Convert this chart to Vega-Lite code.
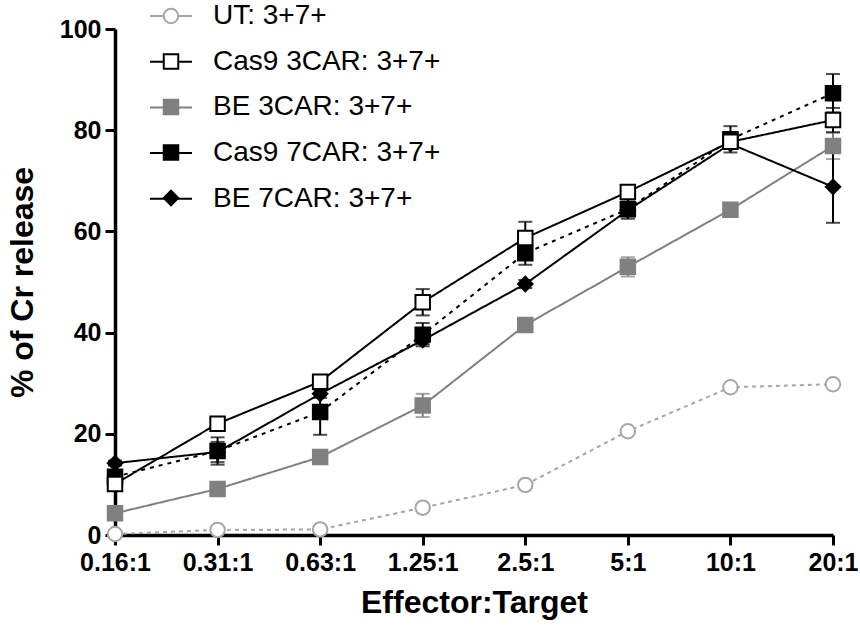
{
  "$schema": "https://vega.github.io/schema/vega-lite/v6.json",
  "width": 718,
  "height": 506,
  "autosize": {"type": "none"},
  "padding": {"left": 115, "top": 29, "right": 27, "bottom": 97},
  "background": "white",
  "config": {
    "view": {"stroke": null},
    "font": "Liberation Sans",
    "axis": {
      "domainColor": "black", "domainWidth": 3.5, "tickColor": "black", "tickWidth": 3, "tickSize": 10,
      "labelFont": "Liberation Sans", "labelFontSize": 25, "labelFontWeight": "bold", "labelColor": "black",
      "titleFont": "Liberation Sans", "titleFontSize": 32, "titleFontWeight": "bold", "titleColor": "black",
      "grid": false
    },
    "axisX": {"labelPadding": 5, "titlePadding": 12, "labelAngle": 0, "labelOverlap": false, "labelFlush": false},
    "axisY": {"labelPadding": 4, "titlePadding": 20}
  },
  "data": {
    "values": [
      {"ratio": "0.16:1", "series": "UT: 3+7+", "mean": 0.2, "sd": 0},
      {"ratio": "0.31:1", "series": "UT: 3+7+", "mean": 1.0, "sd": 0},
      {"ratio": "0.63:1", "series": "UT: 3+7+", "mean": 1.1, "sd": 0},
      {"ratio": "1.25:1", "series": "UT: 3+7+", "mean": 5.4, "sd": 0},
      {"ratio": "2.5:1", "series": "UT: 3+7+", "mean": 9.9, "sd": 0},
      {"ratio": "5:1", "series": "UT: 3+7+", "mean": 20.5, "sd": 0},
      {"ratio": "10:1", "series": "UT: 3+7+", "mean": 29.2, "sd": 0},
      {"ratio": "20:1", "series": "UT: 3+7+", "mean": 29.8, "sd": 0},
      {"ratio": "0.16:1", "series": "BE 3CAR: 3+7+", "mean": 4.3, "sd": 0.5},
      {"ratio": "0.31:1", "series": "BE 3CAR: 3+7+", "mean": 9.1, "sd": 0.5},
      {"ratio": "0.63:1", "series": "BE 3CAR: 3+7+", "mean": 15.4, "sd": 0.5},
      {"ratio": "1.25:1", "series": "BE 3CAR: 3+7+", "mean": 25.6, "sd": 2.3},
      {"ratio": "2.5:1", "series": "BE 3CAR: 3+7+", "mean": 41.5, "sd": 0.8},
      {"ratio": "5:1", "series": "BE 3CAR: 3+7+", "mean": 53.0, "sd": 1.9},
      {"ratio": "10:1", "series": "BE 3CAR: 3+7+", "mean": 64.3, "sd": 0.8},
      {"ratio": "20:1", "series": "BE 3CAR: 3+7+", "mean": 76.9, "sd": 2.6},
      {"ratio": "0.16:1", "series": "BE 7CAR: 3+7+", "mean": 14.2, "sd": 0.5},
      {"ratio": "0.31:1", "series": "BE 7CAR: 3+7+", "mean": 16.4, "sd": 2.0},
      {"ratio": "0.63:1", "series": "BE 7CAR: 3+7+", "mean": 27.9, "sd": 0.8},
      {"ratio": "1.25:1", "series": "BE 7CAR: 3+7+", "mean": 38.5, "sd": 0.8},
      {"ratio": "2.5:1", "series": "BE 7CAR: 3+7+", "mean": 49.6, "sd": 0.8},
      {"ratio": "5:1", "series": "BE 7CAR: 3+7+", "mean": 64.2, "sd": 1.0},
      {"ratio": "10:1", "series": "BE 7CAR: 3+7+", "mean": 77.3, "sd": 0.8},
      {"ratio": "20:1", "series": "BE 7CAR: 3+7+", "mean": 68.8, "sd": 7.1},
      {"ratio": "0.16:1", "series": "Cas9 7CAR: 3+7+", "mean": 11.5, "sd": 1.0},
      {"ratio": "0.31:1", "series": "Cas9 7CAR: 3+7+", "mean": 16.6, "sd": 2.7},
      {"ratio": "0.63:1", "series": "Cas9 7CAR: 3+7+", "mean": 24.3, "sd": 4.5},
      {"ratio": "1.25:1", "series": "Cas9 7CAR: 3+7+", "mean": 39.6, "sd": 2.3},
      {"ratio": "2.5:1", "series": "Cas9 7CAR: 3+7+", "mean": 55.7, "sd": 2.3},
      {"ratio": "5:1", "series": "Cas9 7CAR: 3+7+", "mean": 64.4, "sd": 1.9},
      {"ratio": "10:1", "series": "Cas9 7CAR: 3+7+", "mean": 78.2, "sd": 2.6},
      {"ratio": "20:1", "series": "Cas9 7CAR: 3+7+", "mean": 87.3, "sd": 3.8},
      {"ratio": "0.16:1", "series": "Cas9 3CAR: 3+7+", "mean": 10.1, "sd": 1.0},
      {"ratio": "0.31:1", "series": "Cas9 3CAR: 3+7+", "mean": 22.0, "sd": 0.8},
      {"ratio": "0.63:1", "series": "Cas9 3CAR: 3+7+", "mean": 30.3, "sd": 0.8},
      {"ratio": "1.25:1", "series": "Cas9 3CAR: 3+7+", "mean": 46.0, "sd": 2.6},
      {"ratio": "2.5:1", "series": "Cas9 3CAR: 3+7+", "mean": 58.7, "sd": 3.2},
      {"ratio": "5:1", "series": "Cas9 3CAR: 3+7+", "mean": 67.8, "sd": 1.0},
      {"ratio": "10:1", "series": "Cas9 3CAR: 3+7+", "mean": 77.7, "sd": 1.0},
      {"ratio": "20:1", "series": "Cas9 3CAR: 3+7+", "mean": 82.0, "sd": 2.4}
    ]
  },
  "encoding": {
    "x": {
      "field": "ratio", "type": "ordinal",
      "sort": ["0.16:1", "0.31:1", "0.63:1", "1.25:1", "2.5:1", "5:1", "10:1", "20:1"],
      "scale": {"type": "point", "padding": 0, "domain": ["0.16:1", "0.31:1", "0.63:1", "1.25:1", "2.5:1", "5:1", "10:1", "20:1"]},
      "axis": {"title": "Effector:Target"}
    },
    "y": {
      "field": "mean", "type": "quantitative",
      "scale": {"domain": [0, 100], "nice": false},
      "axis": {"values": [0, 20, 40, 60, 80, 100], "title": "% of Cr release"}
    }
  },
  "layer": [
    {
      "mark": {"type": "line", "strokeWidth": 2},
      "encoding": {
        "color": {
          "field": "series", "type": "nominal",
          "scale": {"domain": ["UT: 3+7+", "Cas9 3CAR: 3+7+", "BE 3CAR: 3+7+", "Cas9 7CAR: 3+7+", "BE 7CAR: 3+7+", "-"], "range": ["#a6a6a6", "black", "#808080", "black", "black", "white"]},
          "legend": {
            "orient": "none", "legendX": 34, "legendY": -35, "title": null, "padding": 0,
            "values": ["UT: 3+7+", "Cas9 3CAR: 3+7+", "BE 3CAR: 3+7+", "Cas9 7CAR: 3+7+", "BE 7CAR: 3+7+"],
            "symbolType": "stroke", "symbolSize": 1764, "symbolStrokeWidth": 2, "symbolOpacity": 1,
            "labelFont": "Liberation Sans", "labelFontSize": 28, "labelColor": "black", "labelOffset": 20, "labelLimit": 400,
            "rowPadding": 9.7,
            "labelExpr": "indexof(['Cas9 3CAR: 3+7+','BE 3CAR: 3+7+'], datum.label) >= 0 ? '\u00a0' + datum.label : datum.label",
            "encode": {
              "symbols": {
                "update": {
                  "strokeDash": {"value": {"expr": "datum.value == 'UT: 3+7+' ? [3,3.5] : datum.value == 'Cas9 7CAR: 3+7+' ? [3,4] : [1,0]"}}
                }
              }
            }
          }
        },
        "strokeDash": {
          "field": "series", "type": "nominal",
          "scale": {"domain": ["UT: 3+7+", "Cas9 3CAR: 3+7+", "BE 3CAR: 3+7+", "Cas9 7CAR: 3+7+", "BE 7CAR: 3+7+", "--"], "range": [[4, 4], [1, 0], [1, 0], [4, 5], [1, 0], [1, 0]]},
          "legend": null
        }
      }
    },
    {
      "transform": [{"filter": "datum.series == 'BE 3CAR: 3+7+'"}],
      "mark": {"type": "errorbar", "ticks": true, "size": 14, "thickness": 2, "color": "#808080"},
      "encoding": {"yError": {"field": "sd"}}
    },
    {
      "transform": [{"filter": "datum.series != 'BE 3CAR: 3+7+' && datum.series != 'UT: 3+7+'"}],
      "mark": {"type": "errorbar", "ticks": true, "size": 14, "thickness": 2, "color": "black"},
      "encoding": {"yError": {"field": "sd"}}
    },
    {
      "mark": {"type": "point", "opacity": 1, "size": 210, "strokeWidth": 2},
      "encoding": {
        "shape": {
          "field": "series", "type": "nominal",
          "scale": {"domain": ["UT: 3+7+", "Cas9 3CAR: 3+7+", "BE 3CAR: 3+7+", "Cas9 7CAR: 3+7+", "BE 7CAR: 3+7+"], "range": ["circle", "square", "square", "square", "diamond"]},
          "legend": {
            "orient": "none", "legendX": 42, "legendY": -27, "title": null, "padding": 0,
            "symbolSize": 210, "symbolStrokeWidth": 2, "symbolOpacity": 1,
            "labelFont": "Liberation Sans", "labelFontSize": 28, "labelOpacity": 0, "labelOffset": 20, "labelLimit": 400,
            "rowPadding": 17.5
          }
        },
        "fill": {
          "field": "series", "type": "nominal",
          "scale": {"domain": ["UT: 3+7+", "Cas9 3CAR: 3+7+", "BE 3CAR: 3+7+", "Cas9 7CAR: 3+7+", "BE 7CAR: 3+7+"], "range": ["white", "white", "#808080", "black", "black"]},
          "legend": {
            "orient": "none", "legendX": 42, "legendY": -27, "title": null, "padding": 0,
            "symbolSize": 210, "symbolStrokeWidth": 2, "symbolOpacity": 1,
            "labelFont": "Liberation Sans", "labelFontSize": 28, "labelOpacity": 0, "labelOffset": 20, "labelLimit": 400,
            "rowPadding": 17.5
          }
        },
        "stroke": {
          "field": "series", "type": "nominal",
          "scale": {"domain": ["UT: 3+7+", "Cas9 3CAR: 3+7+", "BE 3CAR: 3+7+", "Cas9 7CAR: 3+7+", "BE 7CAR: 3+7+"], "range": ["#a6a6a6", "black", "#808080", "black", "black"]},
          "legend": {
            "orient": "none", "legendX": 42, "legendY": -27, "title": null, "padding": 0,
            "symbolSize": 210, "symbolStrokeWidth": 2, "symbolOpacity": 1,
            "labelFont": "Liberation Sans", "labelFontSize": 28, "labelOpacity": 0, "labelOffset": 20, "labelLimit": 400,
            "rowPadding": 17.5
          }
        }
      }
    }
  ]
}
